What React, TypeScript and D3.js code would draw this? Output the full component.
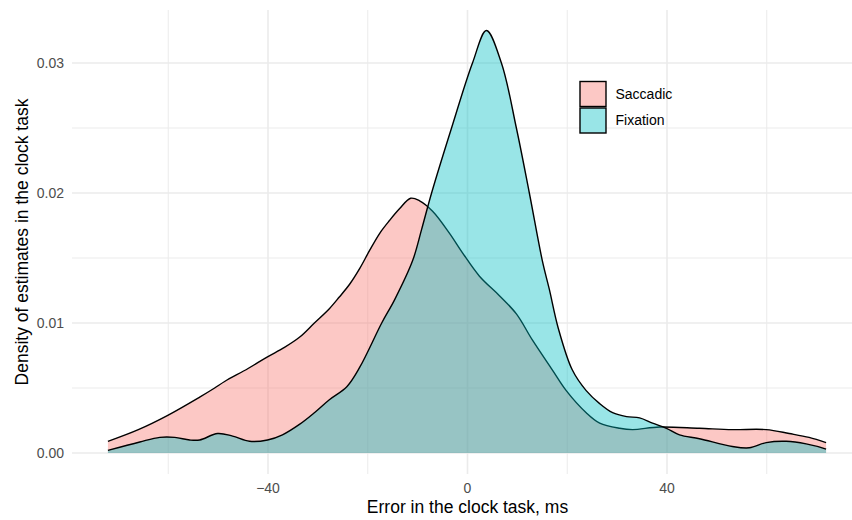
import React from "react";
import * as d3 from "d3";

const W = 852;
const H = 520;
const PANEL = { left: 72, right: 863, top: 10, bottom: 474 };

// Error in the clock task (ms) / density estimates
const saccadicX = [
  -72.1, -66, -60.1, -53.7, -50.7, -48.7, -44, -40.1, -36.8, -33.7, -30.7, -27.7,
  -25.7, -23.6, -21.6, -19.6, -17.6, -15.6, -13.6, -11.4, -9.6, -7.0, -3.6, -1.0,
  2.4, 6.4, 9.8, 13.0, 17.0, 19.8, 23.8, 26.5, 30.5, 33.1, 38.5, 46.5, 53.1, 59.9,
  64.5, 68.5, 71.9,
];
const saccadicY = [
  0.0009, 0.0018, 0.0029, 0.0043, 0.005, 0.0055, 0.0065, 0.0074, 0.0081, 0.0089,
  0.01, 0.0111, 0.012, 0.013, 0.0142, 0.0156, 0.0169, 0.0179, 0.0188, 0.0196,
  0.0194, 0.0186, 0.0169, 0.0154, 0.0136, 0.0121, 0.0107, 0.0087, 0.0064, 0.0048,
  0.0031, 0.0023, 0.0019, 0.0018, 0.002, 0.0019, 0.0018, 0.0018, 0.0015, 0.0012,
  0.0008,
];
const fixationX = [
  -72.1, -65.7, -61.7, -58.7, -55.7, -53.7, -50.1, -47.1, -43.7, -40.1, -37.1,
  -33.7, -30.7, -27.7, -24.2, -21.6, -17.2, -14.6, -11.0, -9.2, -7.2, -3.2, 1.0,
  3.8, 6.8, 9.8, 12.4, 15.0, 16.4, 18.2, 21.0, 23.8, 26.5, 29.1, 31.9, 34.5, 37.1,
  39.9, 42.5, 46.5, 53.1, 56.5, 59.9, 63.9, 67.9, 71.9,
];
const fixationY = [
  0.0002, 0.00085, 0.0012, 0.0012, 0.001, 0.001, 0.0015, 0.0013, 0.0009, 0.001,
  0.0014, 0.0022, 0.0031, 0.0041, 0.0051, 0.0066, 0.01, 0.0118, 0.0148, 0.0172,
  0.02, 0.025, 0.03, 0.0325, 0.03, 0.025, 0.02, 0.0148, 0.0126, 0.0096, 0.0064,
  0.0048, 0.0038, 0.0031, 0.0028, 0.0027, 0.0023, 0.0019, 0.0014, 0.0011, 0.0005,
  0.0004, 0.0008, 0.0009, 0.0007, 0.0003,
];

const groups = ["Saccadic", "Fixation"];
const fills = ["#F8766D", "#00BFC4"];

const xMajor = [-40, 0, 40];
const xMinor = [-60, -20, 20, 60];
const yMajor = [0, 0.01, 0.02, 0.03];
const yMinor = [0.005, 0.015, 0.025];

const FONT = "'Liberation Sans', Arial, sans-serif";

export default function App() {
  const x = d3.scaleLinear().domain([-79.3, 79.3]).range([PANEL.left, PANEL.right]);
  const y = d3.scaleLinear().domain([-0.0016, 0.0341]).range([473.8, 9.7]);

  const series = [
    saccadicX.map((v, i) => [v, saccadicY[i]] as [number, number]),
    fixationX.map((v, i) => [v, fixationY[i]] as [number, number]),
  ];

  const curve = d3.curveCatmullRom.alpha(0.5);
  const area = d3
    .area<[number, number]>()
    .x((d) => x(d[0]))
    .y0(y(0))
    .y1((d) => y(d[1]))
    .curve(curve);
  const line = d3
    .line<[number, number]>()
    .x((d) => x(d[0]))
    .y((d) => y(d[1]))
    .curve(curve);

  return (
    <svg
      width={W}
      height={H}
      style={{ position: "absolute", left: 0, top: 0, background: "#fff" }}
      fontFamily={FONT}
    >
      {/* grid */}
      <g stroke="#EBEBEB" fill="none">
        {yMinor.map((t) => (
          <line key={"ym" + t} x1={PANEL.left} x2={PANEL.right} y1={y(t)} y2={y(t)} strokeWidth={1} />
        ))}
        {xMinor.map((t) => (
          <line key={"xm" + t} x1={x(t)} x2={x(t)} y1={PANEL.top} y2={PANEL.bottom} strokeWidth={1} />
        ))}
        {yMajor.map((t) => (
          <line key={"yM" + t} x1={PANEL.left} x2={PANEL.right} y1={y(t)} y2={y(t)} strokeWidth={1.6} />
        ))}
        {xMajor.map((t) => (
          <line key={"xM" + t} x1={x(t)} x2={x(t)} y1={PANEL.top} y2={PANEL.bottom} strokeWidth={1.6} />
        ))}
      </g>

      {/* densities */}
      {series.map((s, i) => (
        <g key={groups[i]}>
          <path d={area(s) || ""} fill={fills[i]} fillOpacity={0.4} stroke="none" />
          <path d={line(s) || ""} fill="none" stroke="#000" strokeWidth={1.4} />
        </g>
      ))}

      {/* y tick labels */}
      {yMajor.map((t) => (
        <text
          key={"yl" + t}
          x={64}
          y={y(t)}
          dy="0.35em"
          textAnchor="end"
          fontSize={14}
          fill="#4D4D4D"
        >
          {d3.format(".2f")(t)}
        </text>
      ))}
      {/* x tick labels */}
      {xMajor.map((t) => (
        <text
          key={"xl" + t}
          x={x(t)}
          y={493}
          textAnchor="middle"
          fontSize={14}
          fill="#4D4D4D"
        >
          {t < 0 ? "\u2212" + Math.abs(t) : String(t)}
        </text>
      ))}

      {/* axis titles */}
      <text x={(PANEL.left + 863) / 2} y={513} textAnchor="middle" fontSize={17.5} fill="#000">
        Error in the clock task, ms
      </text>
      <text
        transform={`translate(28,${(PANEL.top + PANEL.bottom) / 2}) rotate(-90)`}
        textAnchor="middle"
        fontSize={17.5}
        fill="#000"
      >
        Density of estimates in the clock task
      </text>

      {/* legend */}
      {groups.map((g, i) => (
        <g key={"lg" + g} transform={`translate(580,${81.5 + i * 26.5})`}>
          <rect width={26} height={25} fill="#fff" />
          <rect
            width={26}
            height={25}
            fill={fills[i]}
            fillOpacity={0.4}
            stroke="#000"
            strokeWidth={1.4}
          />
          <text x={35.5} y={12.5} dy="0.35em" fontSize={14} fill="#000">
            {g}
          </text>
        </g>
      ))}
    </svg>
  );
}
